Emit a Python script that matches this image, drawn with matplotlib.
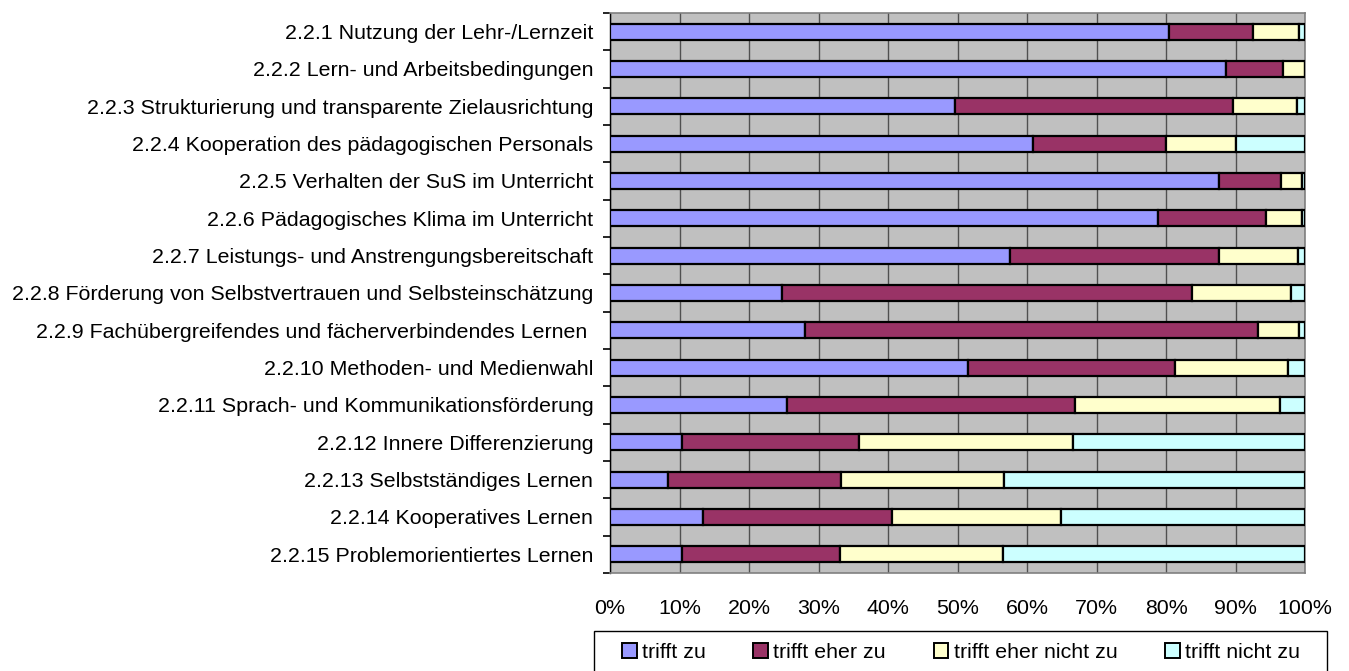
import matplotlib
matplotlib.use("Agg")
import matplotlib.pyplot as plt
from matplotlib.patches import Patch, Rectangle
import numpy as np

plt.rcParams['font.family'] = ['Liberation Sans', 'DejaVu Sans']

categories = [
    "2.2.1 Nutzung der Lehr-/Lernzeit",
    "2.2.2 Lern- und Arbeitsbedingungen",
    "2.2.3 Strukturierung und transparente Zielausrichtung",
    "2.2.4 Kooperation des pädagogischen Personals",
    "2.2.5 Verhalten der SuS im Unterricht",
    "2.2.6 Pädagogisches Klima im Unterricht",
    "2.2.7 Leistungs- und Anstrengungsbereitschaft",
    "2.2.8 Förderung von Selbstvertrauen und Selbsteinschätzung",
    "2.2.9 Fachübergreifendes und fächerverbindendes Lernen ",
    "2.2.10 Methoden- und Medienwahl",
    "2.2.11 Sprach- und Kommunikationsförderung",
    "2.2.12 Innere Differenzierung",
    "2.2.13 Selbstständiges Lernen",
    "2.2.14 Kooperatives Lernen",
    "2.2.15 Problemorientiertes Lernen",
]

series_names = ["trifft zu", "trifft eher zu", "trifft eher nicht zu", "trifft nicht zu"]

trifft_zu = [80.4, 88.6, 49.7, 60.9, 87.6, 78.9, 57.5, 24.8, 28.0, 51.5, 25.4, 10.3, 8.4, 13.4, 10.3]
trifft_eher_zu = [12.1, 8.3, 39.9, 19.1, 9.0, 15.5, 30.1, 58.9, 65.3, 29.8, 41.5, 25.5, 24.9, 27.2, 22.8]
trifft_eher_nicht_zu = [6.7, 3.1, 9.3, 10.1, 2.9, 5.1, 11.4, 14.3, 5.8, 16.3, 29.5, 30.8, 23.4, 24.3, 23.5]
trifft_nicht_zu = [0.8, 0.0, 1.1, 9.9, 0.5, 0.5, 1.0, 2.0, 0.9, 2.4, 3.6, 33.4, 43.3, 35.1, 43.4]

colors = ["#9999FF", "#993366", "#FFFFCC", "#CCFFFF"]
FS = 15.4

W, H = 1349, 671
fig = plt.figure(figsize=(W / 100, H / 100), dpi=100)
ax = fig.add_axes([610 / W, 1 - 573 / H, 695 / W, 560 / H])
ax.set_facecolor("#C0C0C0")

data = [trifft_zu, trifft_eher_zu, trifft_eher_nicht_zu, trifft_nicht_zu]
y = np.arange(len(categories))
left = np.zeros(len(categories))
for vals, c, name in zip(data, colors, series_names):
    v = np.array(vals)
    ax.barh(y, v, left=left, height=0.42, color=c, edgecolor="black",
            linewidth=1.6, label=name, zorder=3)
    left += v

ax.set_xlim(0, 100)
ax.set_ylim(len(categories) - 0.5, -0.5)
ax.set_xticks(np.arange(0, 101, 10))
ax.set_xticklabels([f"{t}%" for t in range(0, 101, 10)], fontsize=FS)
ax.tick_params(axis="x", length=0, pad=19)
ax.set_yticks(y)
ax.set_yticklabels(categories, fontsize=FS)
ax.tick_params(axis="y", which="major", length=0, pad=12)
ax.set_yticks(np.arange(-0.5, len(categories) + 0.5, 1), minor=True)
ax.tick_params(axis="y", which="minor", length=5, width=1.2, color="black")
ax.grid(axis="x", color="#505050", linewidth=1.0, zorder=0)
ax.set_axisbelow(True)
for s in ["top", "right", "bottom"]:
    ax.spines[s].set_color("#808080")
    ax.spines[s].set_linewidth(1.2)
ax.spines["left"].set_color("black")
ax.spines["left"].set_linewidth(1.0)

# legend frame (cut off at the bottom edge as in the reference)
fig.patches.append(Rectangle((594 / W, -0.05), (1327 - 594) / W, (1 - 631 / H) + 0.05,
                             transform=fig.transFigure, fill=False,
                             edgecolor="black", linewidth=1.0))

handles = [Patch(facecolor=c, edgecolor="black", linewidth=1.4) for c in colors]
leg = fig.legend(handles, series_names, loc="upper left",
                 bbox_to_anchor=(622 / W, 1 - 643 / H - 0.1, (1300 - 622) / W, 0.1),
                 mode="expand", ncol=4, fontsize=FS, frameon=False,
                 handlelength=0.68, handleheight=0.68, handletextpad=0.25,
                 borderpad=0.0, borderaxespad=0.0, columnspacing=1.0)

fig.savefig("out.png", dpi=100)
